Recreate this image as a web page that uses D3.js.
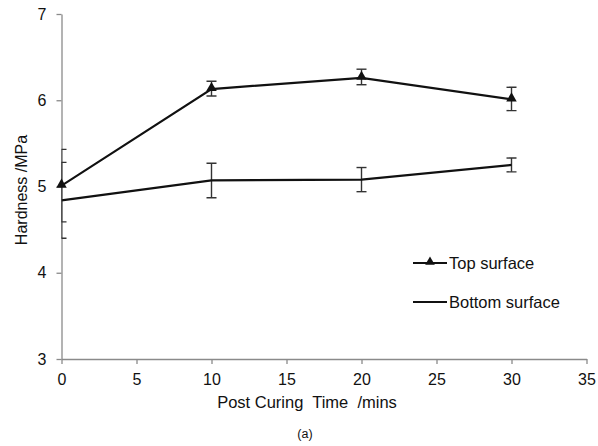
<!DOCTYPE html>
<html>
<head>
<meta charset="utf-8">
<script src="https://cdn.jsdelivr.net/npm/d3@7"></script>
<style>
  html, body { margin: 0; padding: 0; background: #fff; }
  svg { display: block; font-family: "Liberation Sans", Arial, sans-serif; }
</style>
</head>
<body>
<svg id="chart" width="598" height="446"></svg>
<script>
// Post-curing time (minutes)
const times = [0, 10, 20, 30];
// Hardness of the top surface (MPa) with error bounds
const topValues = [5.01, 6.13, 6.26, 6.01];
const topLow    = [4.59, 6.05, 6.18, 5.88];
const topHigh   = [5.43, 6.22, 6.36, 6.15];
// Hardness of the bottom surface (MPa) with error bounds
const bottomValues = [4.84, 5.07, 5.08, 5.25];
const bottomLow    = [4.40, 4.87, 4.94, 5.17];
const bottomHigh   = [5.28, 5.27, 5.22, 5.33];
// Axis ticks
const xTicks = [0, 5, 10, 15, 20, 25, 30, 35];
const yTicks = [3, 4, 5, 6, 7];
const seriesNames = ["Top surface", "Bottom surface"];

const svg = d3.select("#chart");
const x = d3.scaleLinear().domain([0, 35]).range([61.5, 586.5]);
const y = d3.scaleLinear().domain([3, 7]).range([359, 14]);

const axisColor = "#8a8a8a";
const fontFam = "'Liberation Sans', Arial, sans-serif";

// Axes
const xAxis = svg.append("g")
  .attr("transform", `translate(0,${y(3)})`)
  .call(d3.axisBottom(x).tickValues(xTicks).tickFormat(d3.format("d"))
    .tickSize(5).tickPadding(10).tickSizeOuter(0));
const yAxis = svg.append("g")
  .attr("transform", `translate(${x(0)},0)`)
  .call(d3.axisLeft(y).tickValues(yTicks).tickFormat(d3.format("d"))
    .tickSize(5).tickPadding(10).tickSizeOuter(0));
[xAxis, yAxis].forEach(g => {
  g.select(".domain").attr("stroke", axisColor).attr("stroke-width", 1.3);
  g.selectAll(".tick line").attr("stroke", axisColor).attr("stroke-width", 1.3);
  g.selectAll(".tick text").attr("fill", "#111")
    .attr("font-size", 16).attr("font-family", fontFam);
});

// Clip marks to the plotting region (error caps at x=0 show only their right half)
svg.append("clipPath").attr("id", "plotClip")
  .append("rect").attr("x", x(0)).attr("y", 0).attr("width", x(35) - x(0) + 10).attr("height", y(3) + 1);

const plot = svg.append("g").attr("clip-path", "url(#plotClip)");
const line = d3.line().x(d => x(d[0])).y(d => y(d[1]));

function drawSeries(vals, lo, hi, withMarker) {
  const pts = times.map((t, i) => [t, vals[i]]);
  // error bars
  const eb = plot.append("g").attr("stroke", "#333").attr("stroke-width", 1.4);
  times.forEach((t, i) => {
    const cx = x(t);
    eb.append("line").attr("x1", cx).attr("x2", cx).attr("y1", y(lo[i])).attr("y2", y(hi[i]));
    eb.append("line").attr("x1", cx - 5).attr("x2", cx + 5).attr("y1", y(lo[i])).attr("y2", y(lo[i]));
    eb.append("line").attr("x1", cx - 5).attr("x2", cx + 5).attr("y1", y(hi[i])).attr("y2", y(hi[i]));
  });
  plot.append("path").datum(pts).attr("d", line)
    .attr("fill", "none").attr("stroke", "#111").attr("stroke-width", 2.2);
  if (withMarker) {
    svg.append("g").selectAll("path").data(pts).join("path")
      .attr("d", d3.symbol(d3.symbolTriangle, 48)())
      .attr("transform", d => `translate(${x(d[0])},${y(d[1]) - 1})`)
      .attr("fill", "#111");
  }
}
drawSeries(bottomValues, bottomLow, bottomHigh, false);
drawSeries(topValues, topLow, topHigh, true);

// Axis titles
svg.append("text").attr("x", 307).attr("y", 408)
  .attr("text-anchor", "middle").attr("font-size", 16.5).attr("font-family", fontFam).attr("fill", "#111")
  .attr("xml:space", "preserve").style("white-space", "pre")
  .text("Post Curing  Time  /mins");
svg.append("text").attr("transform", "translate(27,190) rotate(-90)")
  .attr("text-anchor", "middle").attr("font-size", 16).attr("font-family", fontFam).attr("fill", "#111")
  .text("Hardness /MPa");
svg.append("text").attr("x", 305).attr("y", 438)
  .attr("text-anchor", "middle").attr("font-size", 12.5).attr("font-family", fontFam).attr("fill", "#111")
  .text("(a)");

// Legend
const legend = svg.append("g");
const legY = [263, 302];
seriesNames.forEach((name, i) => {
  legend.append("line").attr("x1", 413).attr("x2", 447).attr("y1", legY[i]).attr("y2", legY[i])
    .attr("stroke", "#111").attr("stroke-width", 2);
  if (i === 0) {
    legend.append("path").attr("d", d3.symbol(d3.symbolTriangle, 40)())
      .attr("transform", `translate(430,${legY[i] - 1})`).attr("fill", "#111");
  }
  legend.append("text").attr("x", 449).attr("y", legY[i] + 5.5)
    .attr("font-size", 16.5).attr("font-family", fontFam).attr("fill", "#111").text(name);
});
</script>
</body>
</html>
